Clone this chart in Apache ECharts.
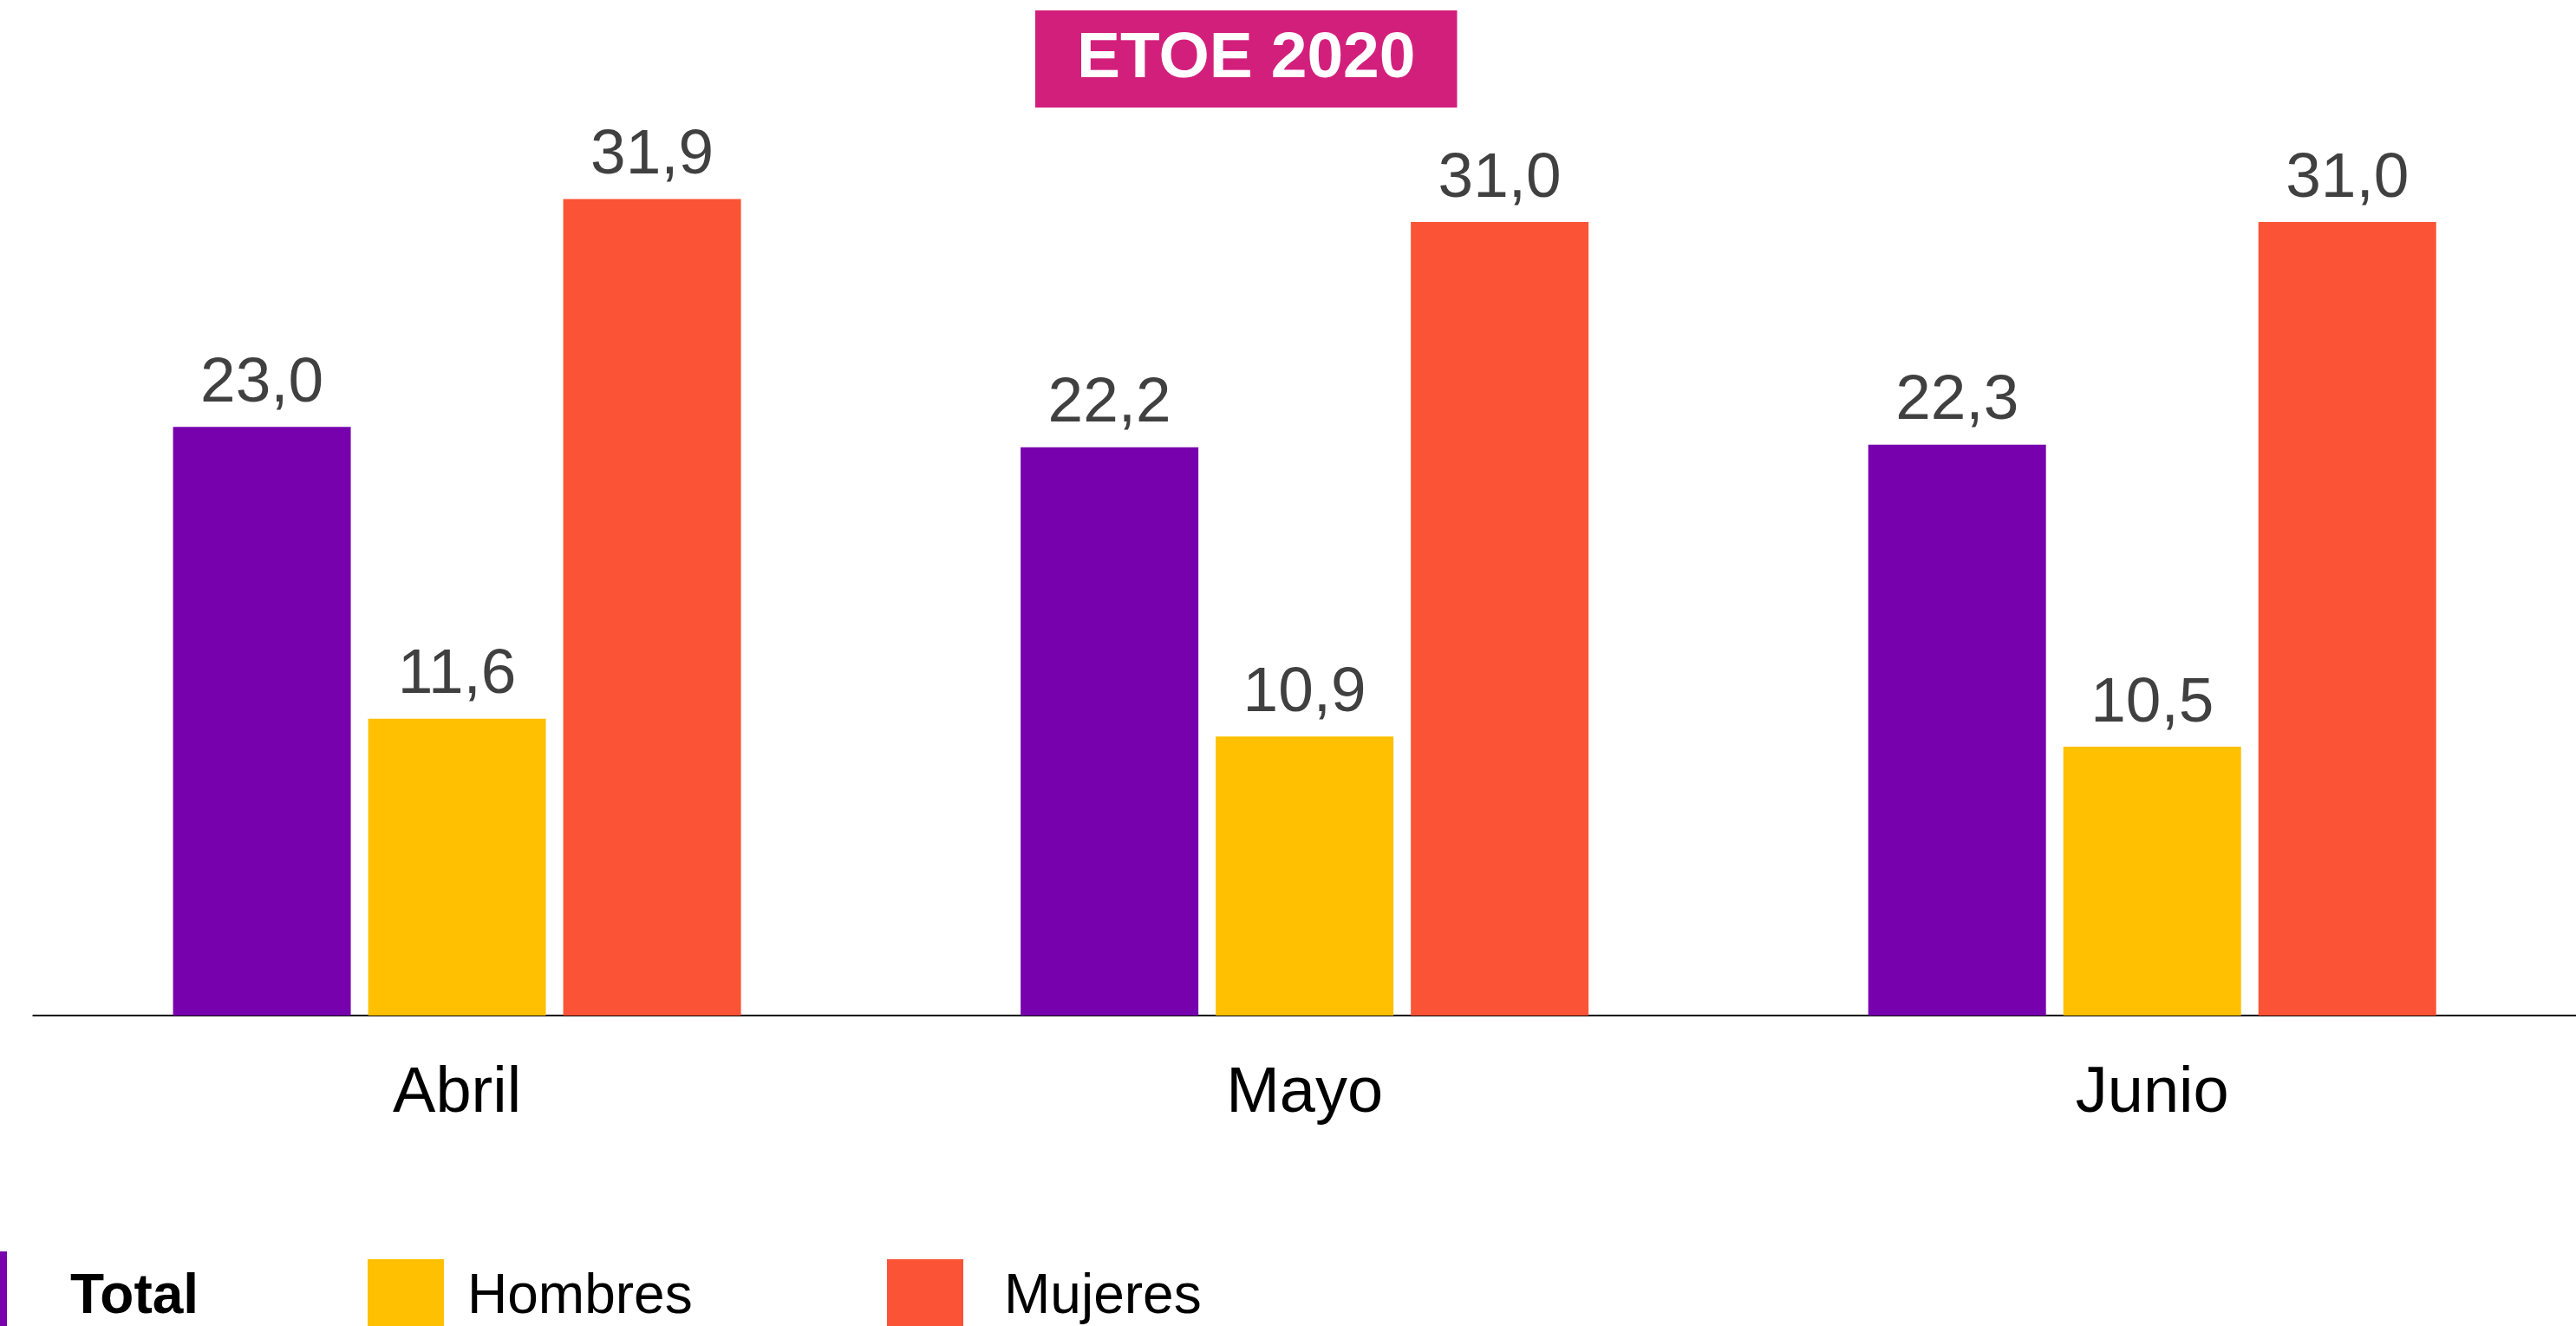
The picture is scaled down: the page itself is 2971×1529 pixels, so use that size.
<!DOCTYPE html>
<html>
<head>
<meta charset="utf-8">
<script src="https://cdn.jsdelivr.net/npm/echarts@6/dist/echarts.min.js"></script>
<style>
html,body{margin:0;padding:0;background:#fff;}
#chart{width:2971px;height:1529px;}
</style>
</head>
<body>
<div id="chart"></div>
<script>
const categories = ['Abril', 'Mayo', 'Junio'];
const seriesNames = ['Total', 'Hombres', 'Mujeres'];
const totalValues = [23.0, 22.2, 22.3];
const hombresValues = [11.6, 10.9, 10.5];
const mujeresValues = [31.9, 31.0, 31.0];
const titleText = 'ETOE 2020';

const colors = ['#7702AD', '#FEC000', '#FB5336'];
const FONT = '"Liberation Sans", Arial, Helvetica, sans-serif';

const chart = echarts.init(document.getElementById('chart'), null, {renderer: 'canvas'});

function fmt(v) { return v.toFixed(1).replace('.', ','); }

const labelCfg = {
  show: true,
  position: 'top',
  distance: 13,
  color: '#404040',
  fontSize: 73,
  fontFamily: FONT,
  formatter: p => fmt(p.value)
};

function legendFor(name, left, extra) {
  return Object.assign({
    data: [name],
    left: left,
    top: 1452,
    padding: 0,
    itemWidth: 88,
    itemHeight: 88,
    icon: 'rect',
    selectedMode: false,
    textStyle: {fontSize: 64, fontFamily: FONT, color: '#000'}
  }, extra || {});
}

const option = {
  animation: false,
  backgroundColor: '#fff',
  title: {
    text: titleText,
    left: 1194,
    top: 12,
    padding: [17, 48, 17, 48],
    backgroundColor: '#D31F7C',
    textStyle: {color: '#fff', fontSize: 75, fontWeight: 'bold', fontFamily: FONT, lineHeight: 78}
  },
  legend: [
    legendFor('Total', -80, {top: 1443, itemHeight: 106,
      textStyle: {fontSize: 64, fontFamily: FONT, color: '#000', fontWeight: 'bold', padding: [0, 0, 0, 68]}}),
    legendFor('Hombres', 424, {textStyle: {fontSize: 64, fontFamily: FONT, color: '#000', padding: [0, 0, 0, 22]}}),
    legendFor('Mujeres', 1023, {textStyle: {fontSize: 64, fontFamily: FONT, color: '#000', padding: [0, 0, 0, 42]}})
  ],
  grid: {left: 38.3, top: 20, width: 2943, height: 1151, containLabel: false},
  xAxis: {
    type: 'category',
    data: categories,
    axisLine: {show: true, lineStyle: {color: '#000', width: 2}},
    axisTick: {show: false},
    axisLabel: {color: '#000', fontSize: 74, fontFamily: FONT, margin: 54}
  },
  yAxis: {
    type: 'value',
    min: 0,
    max: 39,
    show: false,
    splitLine: {show: false}
  },
  series: [
    {name: seriesNames[0], type: 'bar', data: totalValues, barWidth: 205, barGap: '9.76%', itemStyle: {color: colors[0]}, label: labelCfg},
    {name: seriesNames[1], type: 'bar', data: hombresValues, barWidth: 205, barGap: '9.76%', itemStyle: {color: colors[1]}, label: labelCfg},
    {name: seriesNames[2], type: 'bar', data: mujeresValues, barWidth: 205, barGap: '9.76%', itemStyle: {color: colors[2]}, label: labelCfg}
  ]
};
chart.setOption(option);
</script>
</body>
</html>
